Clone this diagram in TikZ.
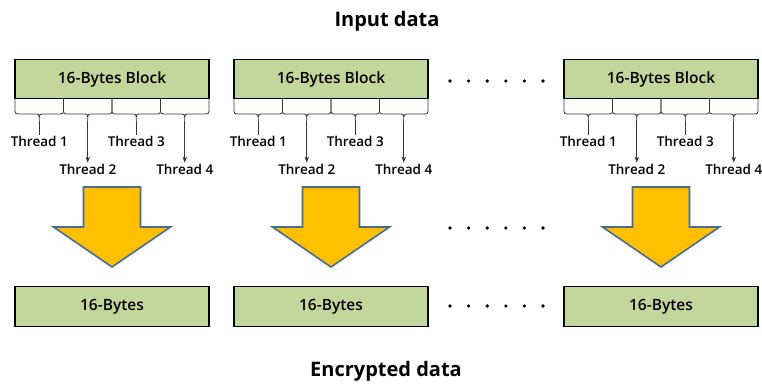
\documentclass[tikz,border=0pt]{standalone}
\usepackage{fontspec}
\setmainfont{Open Sans}
% medium-weight face for the labels
\IfFontExistsTF{Open Sans SemiBold}{\newfontfamily\semi{Open Sans SemiBold}}{%
  \IfFontExistsTF{Open Sans Semibold}{\newfontfamily\semi{Open Sans Semibold}}{%
    \IfFontExistsTF{Lato Semibold}{\newfontfamily\semi{Lato Semibold}}{%
      \newfontfamily\semi{Open Sans}[AutoFakeBold=1.2]}}}
\usetikzlibrary{arrows.meta}
\definecolor{blockgreen}{HTML}{C3D69B}
\definecolor{arrowgold}{HTML}{FFC000}
\definecolor{arrowedge}{HTML}{4A6A92}
\definecolor{bracegray}{HTML}{383838}
\tikzset{
  x=1pt, y=-1pt,
  block/.style={draw=black, line width=1.8pt, fill=blockgreen,
    minimum width=194pt, minimum height=39pt, inner sep=0pt,
    font=\semi\fontsize{15.5}{18}\selectfont},
  outblock/.style={block, minimum height=40pt},
  brace/.style={draw=bracegray, line width=0.8pt},
  thread/.style={font=\semi\fontsize{13.5}{15}\selectfont, inner sep=1pt},
  threadarrow/.style={brace, -{Stealth[length=6pt,width=4.5pt]}},
  bigarrow/.style={draw=arrowedge, line width=1.6pt, fill=arrowgold, line join=miter},
  title/.style={font=\bfseries\fontsize{20}{24}\selectfont, anchor=base},
  dot/.style={fill=black, draw=none},
}
\begin{document}
\begin{tikzpicture}
\useasboundingbox (0,0) rectangle (762,386);

\node[title] (input) at (387,26) {Input data};
\node[title] (output) at (386,376) {Encrypted data};

\foreach \i/\L in {1/15, 2/234, 3/564} {
  \pgfmathsetmacro{\C}{\L+97}
  % input block and output block
  \node[block] (in\i) at (\C,79) {16-Bytes Block};
  \node[outblock] (out\i) at (\C,306.5) {16-Bytes};
  % one brace per thread
  \foreach \k in {1,2,3,4} {
    \pgfmathsetmacro{\a}{\L+(\k-1)*48.5}
    \pgfmathsetmacro{\b}{\L+\k*48.5}
    \pgfmathsetmacro{\m}{(\a+\b)/2}
    \draw[brace] (\a,98) -- (\a,108) .. controls (\a,114) .. (\a+6,114)
      -- (\m-5,114) .. controls (\m,114) .. (\m,121)
      .. controls (\m,114) .. (\m+5,114) -- (\b-6,114)
      .. controls (\b,114) .. (\b,108) -- (\b,98);
    \coordinate (tip\i\k) at (\m,121);
  }
  \node[thread] (t\i1) at (\L+24.25,141) {Thread 1};
  \node[thread] (t\i2) at (\L+72.75,169) {Thread 2};
  \node[thread] (t\i3) at (\L+121.25,141) {Thread 3};
  \node[thread] (t\i4) at (\L+169.75,169) {Thread 4};
  \draw[brace] (tip\i1) -- (t\i1.north);
  \draw[brace] (tip\i3) -- (t\i3.north);
  \draw[threadarrow] (tip\i2) -- (t\i2.north);
  \draw[threadarrow] (tip\i4) -- (t\i4.north);
  % block arrow from input to output
  \draw[bigarrow] (\C-28.5,187) -- (\C+28.5,187) -- (\C+28.5,227)
    -- (\C+58.5,227) -- (\C,267) -- (\C-58.5,227) -- (\C-28.5,227) -- cycle;
}

% ellipses between the second and third columns
\foreach \y in {81,228,306} {
  \foreach \x in {450,468.6,487.2,505.8,524.4,543} {
    \fill[dot] (\x,\y) circle (1.8);
  }
}
\end{tikzpicture}
\end{document}
